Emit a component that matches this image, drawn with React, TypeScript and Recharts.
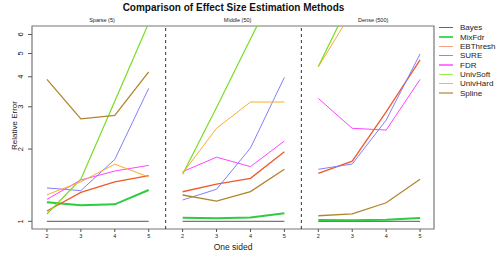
import { LineChart, Line, XAxis, YAxis, ReferenceLine, ReferenceArea } from "recharts";

const methods = ["Bayes", "MixFdr", "EBThresh", "SURE", "FDR", "UnivSoft", "UnivHard", "Spline"];
const panels = ["Sparse (5)", "Middle (50)", "Dense (500)"];
const sides = [2, 3, 4, 5];

// 12 values each: Sparse 2..5, Middle 2..5, Dense 2..5
const bayes = [1, 1, 1, 1, 1, 1, 1, 1, 1, 1, 1, 1];
const mixFdr = [1.2, 1.166, 1.177, 1.35, 1.035, 1.03, 1.037, 1.08, 1.012, 1.01, 1.015, 1.032];
const ebThresh = [1.104, 1.32, 1.46, 1.55, 1.328, 1.43, 1.51, 1.95, 1.585, 1.78, 2.86, 4.7];
const sure = [1.377, 1.342, 1.81, 3.58, 1.227, 1.36, 2.02, 3.98, 1.647, 1.733, 2.64, 4.98];
const fdr = [1.235, 1.486, 1.62, 1.71, 1.61, 1.85, 1.69, 2.16, 3.25, 2.44, 2.4, 3.9];
const univSoft = [1.073, 1.497, 3.16, 6.7, 1.57, 2.98, 5.75, 11, 4.41, 8.6, 15, 25];
const univHard = [1.29, 1.46, 1.73, 1.53, 1.585, 2.44, 3.14, 3.14, 4.4, 7.5, 12, 20];
const spline = [3.9, 2.67, 2.76, 4.19, 1.287, 1.215, 1.33, 1.647, 1.055, 1.073, 1.195, 1.496];

const series = [bayes, mixFdr, ebThresh, sure, fdr, univSoft, univHard, spline];
const colors = ["#777777", "#2ecc40", "#ee5a2a", "#8080ff", "#ff44ff", "#77dd22", "#f5b02a", "#b0852f"];
const legendColors = ["#666666", "#44dd55", "#f4a080", "#8888ff", "#ff77ff", "#99ee55", "#ffbb22", "#d4b483"];
const widths = [1.2, 2, 1.3, 1, 1, 1.2, 1, 1.3];

const yTicks = [1, 2, 3, 4, 5, 6];

// rows with a null row between panels so lines break
const data: any[] = [];
panels.forEach((_, p) => {
  sides.forEach((_, j) => {
    const i = p * 4 + j;
    const row: any = { x: i };
    methods.forEach((m, k) => (row[m] = series[k][i]));
    data.push(row);
  });
  if (p < 2) data.push({ x: p * 4 + 3.5 });
});

const font = "'Liberation Sans', Arial, sans-serif";

const YTick = ({ x, y, payload }: any) => (
  <text
    x={x - 3}
    y={y}
    transform={`rotate(-90, ${x - 3}, ${y})`}
    textAnchor="middle"
    fontSize={7.5}
    fill="#222"
    fontFamily={font}
  >
    {payload.value}
  </text>
);

export default function App() {
  return (
    <div style={{ position: "absolute", left: 0, top: 0, width: 497, height: 255, background: "#fff", fontFamily: font }}>
      <div style={{ position: "absolute", left: 0, width: 467, top: 2, textAlign: "center", fontSize: 10, fontWeight: "bold", color: "#111" }}>
        Comparison of Effect Size Estimation Methods
      </div>
      {panels.map((p, i) => (
        <div key={p} style={{ position: "absolute", left: 47 + i * 135.6 - 30, width: 170, top: 17, textAlign: "center", fontSize: 5.5, color: "#222" }}>
          {p}
        </div>
      ))}
      <div style={{ position: "absolute", left: 183, width: 100, top: 242, textAlign: "center", fontSize: 8.5, color: "#222" }}>
        One sided
      </div>
      <div style={{ position: "absolute", left: -36, top: 121, width: 100, textAlign: "center", fontSize: 8, color: "#222", transform: "rotate(-90deg)" }}>
        Relative Error
      </div>
      <div style={{ position: "absolute", left: 439, top: 23 }}>
        {methods.map((m, k) => (
          <div key={m} style={{ display: "flex", alignItems: "center", height: 9.35 }}>
            <div style={{ width: 14, height: k === 7 ? 2.5 : 1.5, background: legendColors[k], marginRight: 7 }} />
            <span style={{ fontSize: 8, color: "#222", lineHeight: "9px" }}>{m}</span>
          </div>
        ))}
      </div>
      <LineChart width={497} height={255} data={data} margin={{ top: 26, right: 63, bottom: 12, left: 0 }}>
        <XAxis
          dataKey="x"
          type="number"
          domain={[-0.44, 11.41]}
          ticks={[0, 1, 2, 3, 4, 5, 6, 7, 8, 9, 10, 11]}
          tickFormatter={(v: number) => String(sides[v % 4])}
          interval={0}
          allowDataOverflow
          axisLine={false}
          tickLine={{ stroke: "#555" }}
          tickSize={3}
          tick={{ fontSize: 5.5, fill: "#222", fontFamily: font }}
          height={14}
        />
        <YAxis
          scale="log"
          type="number"
          domain={[0.929, 6.51]}
          ticks={yTicks}
          interval={0}
          allowDataOverflow
          axisLine={false}
          tickLine={{ stroke: "#555" }}
          tickSize={4}
          tick={<YTick />}
          width={32}
        />
        <ReferenceArea x1={-0.44} x2={11.41} y1={0.929} y2={6.51} fill="none" stroke="#777" strokeWidth={1.2} ifOverflow="visible" />
        <ReferenceLine x={3.5} stroke="#333" strokeDasharray="3 3" />
        <ReferenceLine x={7.5} stroke="#333" strokeDasharray="3 3" />
        {methods.map((m, k) => (
          <Line
            key={m}
            dataKey={m}
            stroke={colors[k]}
            strokeWidth={widths[k]}
            dot={false}
            activeDot={false}
            connectNulls={false}
            isAnimationActive={false}
          />
        ))}
      </LineChart>
    </div>
  );
}
